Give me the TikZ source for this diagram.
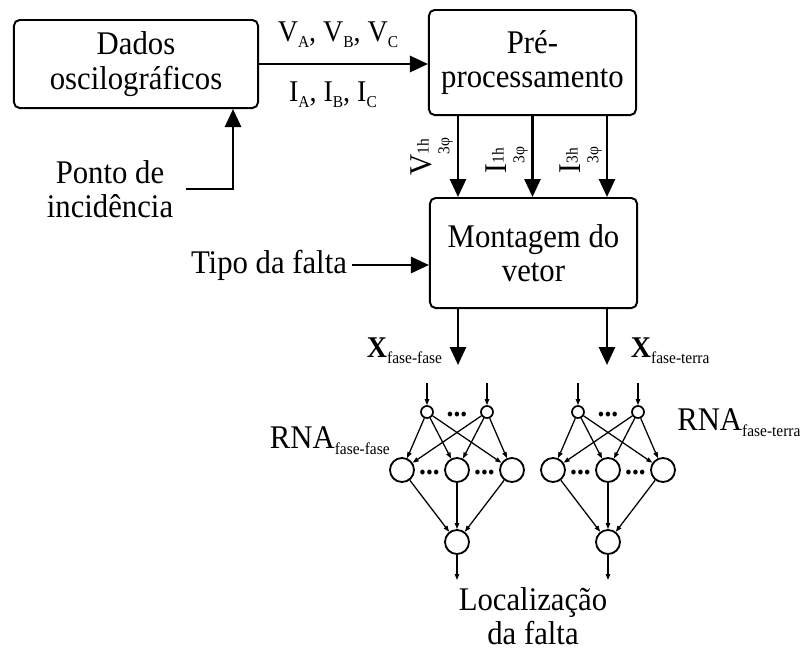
\documentclass[tikz,border=0pt]{standalone}
\usepackage{fontspec}
\setmainfont{Liberation Serif}[FakeStretch=0.93]
\usetikzlibrary{arrows.meta, positioning}
\newcommand{\mainsz}{\fontsize{23.5}{24.5}\selectfont}
\newcommand{\lblsz}{\fontsize{21.4}{23}\selectfont}
\newcommand{\subsz}{\fontsize{11.8}{13}\selectfont}
\newcommand{\lowsub}[1]{\raisebox{-4.3pt}{\subsz #1}}
\newcommand{\supsub}[2]{\rlap{\raisebox{0.1em}{\fontsize{11.8}{13}\selectfont #1}}\raisebox{-0.55em}{\fontsize{11.8}{13}\selectfont #2}}
\tikzset{
    blk/.style = {draw, line width=1.4pt, rounded corners=4pt, align=center, font=\mainsz},
    farr/.style = {-{Triangle[length=4.5mm, width=4mm]}, line width=2pt},
    narr/.style = {-{Triangle[length=1.5mm, width=1.1mm]}, line width=0.9pt},
    inp/.style = {circle, draw, line width=1.2pt, minimum size=3mm, inner sep=0pt},
    neu/.style = {circle, draw, line width=1.3pt, minimum size=6mm, inner sep=0pt},
    dts/.style = {font=\bfseries\fontsize{21}{21}\selectfont, inner sep=0pt},
    rot/.style = {font=\fontsize{22.5}{24}\selectfont, rotate=90, anchor=south, inner sep=1pt}
}

\begin{document}
\begin{tikzpicture}[x=0.025cm, y=-0.025cm, every node/.style={font=\mainsz}]
\useasboundingbox (0,0) rectangle (805,653);

% Blocks
\node[blk, minimum width=6.1cm, minimum height=2.2cm] (dados) at (136,64) {Dados\\oscilográficos};
\node[blk, minimum width=5.175cm, minimum height=2.625cm] (pre) at (532.5,62.5) {Pré-\\processamento};
\node[blk, minimum width=5.175cm, minimum height=2.75cm] (mont) at (533.5,253) {Montagem do\\vetor};

% Inputs
\node[align=center] (ponto) at (110,189) {Ponto de\\incidência};
\node (tipo) at (269,265) {Tipo da falta};

% Dados -> Pre
\draw[farr] (dados.east) -- (dados.east -| pre.west);
\node[font=\lblsz] (vabc) at (338,35) {V\lowsub{A}, V\lowsub{B}, V\lowsub{C}};
\node[font=\lblsz] (iabc) at (333,95) {I\lowsub{A}, I\lowsub{B}, I\lowsub{C}};

% Ponto -> Dados
\draw[farr] ([xshift=2mm]ponto.east) -| ([xshift=-6.5mm]dados.south east);

% Tipo -> Montagem
\draw[farr] (tipo.east) -- (tipo.east -| mont.west);

% Pre -> Montagem (3 arrows)
\draw[farr] ([xshift=-1.8625cm]pre.south) -- ([xshift=-1.8625cm]pre.south |- mont.north);
\draw[farr] (pre.south) -- (pre.south |- mont.north);
\draw[farr] ([xshift=1.8625cm]pre.south) -- ([xshift=1.8625cm]pre.south |- mont.north);
\node[rot] (v1h) at (454.5,157) {V\supsub{1h}{3φ}};
\node[rot] (i1h) at (529.5,160) {I\supsub{1h}{3φ}};
\node[rot] (i3h) at (603.5,160) {I\supsub{3h}{3φ}};

% Montagem -> RNAs
\coordinate (ffx) at (458,365);
\coordinate (ftx) at (607,365);
\draw[farr] (mont.south -| ffx) -- (ffx);
\draw[farr] (mont.south -| ftx) -- (ftx);
\node[anchor=base west, font=\fontsize{21.4}{23}\selectfont] (xff) at (362,357) {\textbf{X}\lowsub{fase-fase}};
\node[anchor=base west, font=\fontsize{21.4}{23}\selectfont] (xft) at (626,357) {\textbf{X}\lowsub{fase-terra}};

% RNA fase-fase
\node[inp] (ffi1) at (427,412) {};
\node[inp] (ffi2) at (487,412) {};
\node[dts] (ffd1) at (457,415) {...};
\node[neu] (ffh1) at (402,470) {};
\node[neu] (ffh2) at (457,470) {};
\node[neu] (ffh3) at (512,470) {};
\node[dts] (ffd2) at (429.5,473) {...};
\node[dts] (ffd3) at (484.5,473) {...};
\node[neu] (ffo) at (457,542) {};
\coordinate (ffa1) at (427,383);
\coordinate (ffa2) at (487,383);
\coordinate (ffz) at (457,580);
\draw[narr] (ffa1) -- (ffi1); \draw[narr] (ffa2) -- (ffi2);
\draw[narr] (ffi1) -- (ffh1); \draw[narr] (ffi1) -- (ffh2); \draw[narr] (ffi1) -- (ffh3);
\draw[narr] (ffi2) -- (ffh1); \draw[narr] (ffi2) -- (ffh2); \draw[narr] (ffi2) -- (ffh3);
\draw[narr] (ffh1) -- (ffo); \draw[narr] (ffh2) -- (ffo); \draw[narr] (ffh3) -- (ffo);
\draw[narr] (ffo) -- (ffz);
\node[anchor=base west] (rnaff) at (265,448) {RNA\lowsub{fase-fase}};

% RNA fase-terra
\node[inp] (fti1) at (578,412) {};
\node[inp] (fti2) at (638,412) {};
\node[dts] (ftd1) at (608,415) {...};
\node[neu] (fth1) at (553,470) {};
\node[neu] (fth2) at (608,470) {};
\node[neu] (fth3) at (663,470) {};
\node[dts] (ftd2) at (580.5,473) {...};
\node[dts] (ftd3) at (635.5,473) {...};
\node[neu] (fto) at (608,542) {};
\coordinate (fta1) at (578,383);
\coordinate (fta2) at (638,383);
\coordinate (ftz) at (608,580);
\draw[narr] (fta1) -- (fti1); \draw[narr] (fta2) -- (fti2);
\draw[narr] (fti1) -- (fth1); \draw[narr] (fti1) -- (fth2); \draw[narr] (fti1) -- (fth3);
\draw[narr] (fti2) -- (fth1); \draw[narr] (fti2) -- (fth2); \draw[narr] (fti2) -- (fth3);
\draw[narr] (fth1) -- (fto); \draw[narr] (fth2) -- (fto); \draw[narr] (fth3) -- (fto);
\draw[narr] (fto) -- (ftz);
\node[anchor=base west, inner sep=0pt] (rnaft) at (677,430) {RNA\lowsub{fase-terra}};

% Output
\node[align=center] (loc) at (533,616) {Localização\\da falta};
\end{tikzpicture}
\end{document}
